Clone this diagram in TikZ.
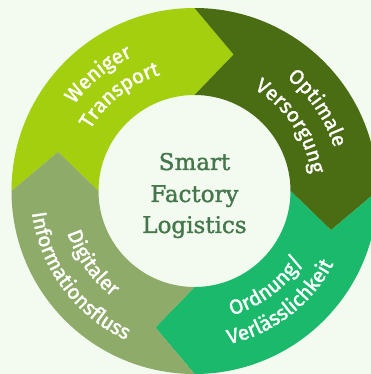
\documentclass[tikz,border=0pt]{standalone}
\usepackage{fontspec}
\setsansfont{Fira Sans}[FakeBold=1.6]
\newfontfamily\titlefont{DejaVu Serif}[FakeBold=1.4]
\usetikzlibrary{decorations.text}

\definecolor{bg}{HTML}{F3FAEF}
\definecolor{lime}{HTML}{A3CF0F}
\definecolor{olive}{HTML}{4A6C12}
\definecolor{emerald}{HTML}{1BB96B}
\definecolor{sage}{HTML}{8FAB69}
\definecolor{titlegreen}{HTML}{44774B}

% white ring captions
\newcommand\labelfont{\sffamily\fontsize{20.6}{24}\selectfont\color{white}}

\tikzset{
  ringlabel/.style={decorate, decoration={text along path, text align=center,
      text={|\labelfont|#1}}},
  centretext/.style={font=\titlefont\fontsize{23}{28}\selectfont, text=titlegreen,
      anchor=base, inner sep=0pt}
}

% one arrow segment of the ring: start angle, colour (runs clockwise over 90 degrees)
\newcommand\ringsegment[2]{%
  \fill[#2] (#1:183pt) arc[start angle=#1, end angle={#1-90}, radius=183pt]
    -- ({#1-106}:142pt) -- ({#1-90}:96pt)
    arc[start angle={#1-90}, end angle=#1, radius=96pt]
    -- ({#1-16}:142pt) -- cycle;}

% caption running clockwise (letters face outward): centre angle, baseline radius, text
\newcommand\cwlabel[3]{%
  \path[ringlabel={#3}] ({#1+60}:#2pt) arc[start angle={#1+60}, end angle={#1-60}, radius=#2pt];}
% caption running anticlockwise (letters face inward)
\newcommand\ccwlabel[3]{%
  \path[ringlabel={#3}] ({#1-60}:#2pt) arc[start angle={#1-60}, end angle={#1+60}, radius=#2pt];}

\begin{document}
\begin{tikzpicture}
  \useasboundingbox (-194.5pt,-183pt) rectangle (176.5pt,191pt);
  \fill[bg] (-194.5pt,-183pt) rectangle (176.5pt,191pt);
  \clip (-194.5pt,-183pt) rectangle (176.5pt,191pt);

  \ringsegment{180}{lime}
  \ringsegment{90}{olive}
  \ringsegment{0}{emerald}
  \ringsegment{-90}{sage}

  \cwlabel{129.5}{148}{Weniger}
  \cwlabel{128}{121}{Transport}
  \cwlabel{34}{146}{Optimale}
  \cwlabel{34}{118}{Versorgung}
  \ccwlabel{-53}{130}{Ordnung/}
  \ccwlabel{-52.5}{157}{Verlässlichkeit}
  \ccwlabel{-144.8}{134}{Digitaler}
  \ccwlabel{-143.5}{164}{Informationsfluss}

  \node[centretext] (smart) at (0pt,21pt) {Smart};
  \node[centretext] (factory) at (0pt,-11pt) {Factory};
  \node[centretext] (logistics) at (0pt,-42pt) {Logistics};
\end{tikzpicture}
\end{document}
